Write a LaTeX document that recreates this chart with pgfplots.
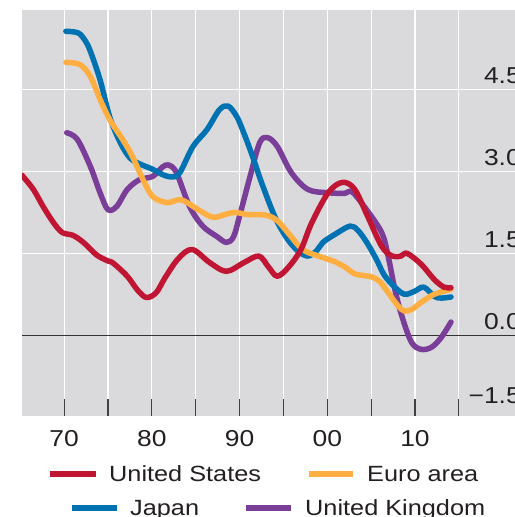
\documentclass[border=0pt]{standalone}
\usepackage{pgfplots}
\pgfplotsset{compat=1.18}
\usepackage{fontspec}
\setmainfont{Liberation Sans}[FakeStretch=1.15]
\definecolor{usred}{RGB}{192,22,52}
\definecolor{euorange}{RGB}{255,174,66}
\definecolor{jpblue}{RGB}{0,114,178}
\definecolor{ukpurple}{RGB}{122,62,152}
\definecolor{bgray}{RGB}{218,218,221}
\definecolor{txt}{RGB}{35,31,32}
\begin{document}
\begin{tikzpicture}
\begin{axis}[
  scale only axis, width=493bp, height=407bp,
  xmin=1965.2, xmax=2021.4, ymin=-1.5, ymax=5.96,
  axis background/.style={fill=bgray},
  axis line style={draw=none},
  xtick={1970,1975,...,2015},
  xticklabels={70,,80,,90,,00,,10,},
  xtick pos=left, tick align=inside,
  major tick length=18bp,
  xtick style={draw=black!75, line width=1.1bp},
  ytick style={draw=none},
  xmajorgrids, ymajorgrids,
  grid style={white, line width=1.2bp},
  ytick={0,1.5,3,4.5},
  yticklabels={0.0,1.5,3.0,4.5},
  ytick pos=right, yticklabel pos=right,
  extra y ticks={-1.5}, extra y tick labels={−1.5},
  extra y tick style={yticklabel style={yshift=7.6bp}},
  every tick label/.append style={font=\fontsize{23bp}{27bp}\selectfont, text=txt, inner sep=0pt},
  xticklabel style={anchor=base, yshift=-29bp},
  yticklabel style={anchor=base east, xshift=6bp, yshift=6bp},
  every axis plot/.append style={line width=5.5bp, smooth, tension=0.55, line cap=round, line join=round},
]
\draw[black!80, line width=1.1bp] (axis cs:1965.2,0) -- (axis cs:2021.4,0);
% United Kingdom
\addplot[ukpurple] coordinates {
(1970.3,3.71) (1971.5,3.59) (1973.0,3.09) (1974.1,2.61) (1975.0,2.30) (1976.0,2.36)
(1977.2,2.67) (1978.6,2.85) (1980.1,2.91) (1981.2,3.08) (1981.9,3.12) (1982.8,2.98)
(1984.3,2.36) (1985.8,2.00) (1987.4,1.81) (1988.5,1.70) (1989.3,1.80) (1990.0,2.18)
(1991.2,2.91) (1992.3,3.53) (1993.2,3.62) (1994.3,3.46) (1995.9,2.98) (1997.8,2.67)
(2000.1,2.61) (2002.0,2.60) (2002.8,2.63) (2004.2,2.36) (2006.2,1.88) (2007.0,1.40)
(2007.7,0.84) (2008.5,0.35) (2009.6,-0.13) (2010.7,-0.26) (2011.9,-0.22) (2013.0,-0.04)
(2014.1,0.24)};
% Japan
\addplot[jpblue] coordinates {
(1970.2,5.57) (1971.6,5.54) (1972.4,5.40) (1973.0,5.20) (1974.1,4.68) (1975.2,4.00)
(1976.4,3.53) (1977.5,3.25) (1978.6,3.14) (1980.1,3.04) (1981.4,2.93) (1982.4,2.90)
(1983.2,2.98) (1984.7,3.46) (1986.3,3.77) (1987.7,4.13) (1988.7,4.20) (1989.7,4.00)
(1990.5,3.70) (1991.5,3.27) (1992.5,2.80) (1994.0,2.18) (1995.3,1.80) (1996.6,1.55)
(1997.8,1.45) (1998.8,1.55) (1999.5,1.70) (2000.9,1.85) (2002.6,2.00) (2003.5,1.92)
(2004.5,1.70) (2005.6,1.39) (2006.5,1.10) (2007.7,0.88) (2008.8,0.75) (2009.9,0.80)
(2011.0,0.88) (2012.2,0.71) (2013.0,0.68) (2014.1,0.70)};
% Euro area
\addplot[euorange] coordinates {
(1970.2,5.00) (1971.8,4.96) (1973.0,4.74) (1974.1,4.32) (1975.2,3.95) (1976.7,3.58)
(1977.8,3.27) (1979.0,2.85) (1980.1,2.54) (1981.7,2.43) (1983.0,2.48) (1983.8,2.45)
(1985.5,2.28) (1987.0,2.16) (1988.5,2.22) (1989.5,2.25) (1991.0,2.21) (1993.0,2.20)
(1994.3,2.10) (1995.5,1.88) (1997.2,1.57) (1999.0,1.45) (2000.8,1.35) (2002.0,1.25)
(2003.2,1.12) (2005.0,1.07) (2006.0,0.98) (2006.9,0.79) (2008.0,0.55) (2008.8,0.44)
(2009.7,0.48) (2010.7,0.60) (2012.2,0.75) (2014.1,0.84)};
% United States
\addplot[usred] coordinates {
(1965.2,2.93) (1966.5,2.67) (1967.6,2.36) (1968.8,2.06) (1969.8,1.88) (1971.0,1.83)
(1972.2,1.70) (1973.7,1.47) (1975.0,1.36) (1975.6,1.32) (1977.2,1.08) (1978.4,0.82)
(1979.4,0.69) (1980.5,0.78) (1981.5,1.05) (1983.0,1.40) (1984.6,1.57) (1986.6,1.33)
(1988.5,1.17) (1990.5,1.33) (1992.2,1.45) (1993.3,1.25) (1994.3,1.08) (1995.6,1.25)
(1997.0,1.57) (1998.2,2.05) (2000.1,2.61) (2001.7,2.80) (2003.1,2.68) (2004.6,2.18)
(2006.2,1.63) (2007.4,1.45) (2008.4,1.45) (2009.1,1.50) (2010.7,1.30) (2012.2,1.02)
(2013.3,0.88) (2014.1,0.87)};
\end{axis}
\begin{scope}[every node/.style={anchor=base west, inner sep=0pt, text=txt, font=\fontsize{22bp}{26bp}\selectfont}]
\draw[usred, line width=5.5bp] ([shift={(28bp,-57bp)}]current axis.south west) -- ++(46bp,0);
\node at ([shift={(87bp,-64bp)}]current axis.south west) {United States};
\draw[euorange, line width=5.5bp] ([shift={(287bp,-57bp)}]current axis.south west) -- ++(44bp,0);
\node at ([shift={(345bp,-64bp)}]current axis.south west) {Euro area};
\draw[jpblue, line width=5.5bp] ([shift={(50bp,-91bp)}]current axis.south west) -- ++(45bp,0);
\node at ([shift={(108bp,-98bp)}]current axis.south west) {Japan};
\draw[ukpurple, line width=5.5bp] ([shift={(224bp,-91bp)}]current axis.south west) -- ++(45bp,0);
\node at ([shift={(283bp,-98bp)}]current axis.south west) {United Kingdom};
\end{scope}
\pgfresetboundingbox
\path[use as bounding box] ([shift={(-22bp,-100bp)}]current axis.south west) rectangle ([shift={(0bp,10bp)}]current axis.north east);
\end{tikzpicture}
\end{document}
